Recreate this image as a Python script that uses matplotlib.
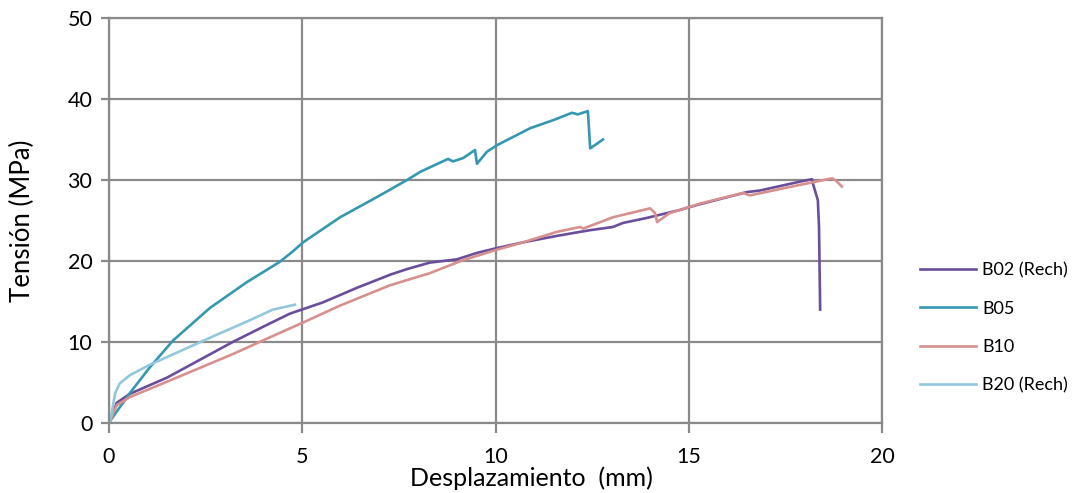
import matplotlib
matplotlib.use("Agg")
import matplotlib.pyplot as plt

plt.rcParams['font.family'] = ['Lato', 'DejaVu Sans']

# Data (desplazamiento mm, tensión MPa)
b02_x = [0.0, 0.05, 0.2, 0.54, 1.5, 2.35, 3.2, 4.08, 4.68, 5.54, 6.42, 7.27, 7.71, 8.3, 9.0, 9.52,
         10.04, 10.71, 11.59, 12.19, 12.44, 13.04, 13.3, 13.9, 14.77, 15.2, 16.5, 16.84, 17.88,
         18.19, 18.21, 18.34, 18.37, 18.4]
b02_y = [0.0, 0.6, 2.5, 3.6, 5.6, 7.8, 10.0, 12.1, 13.5, 14.9, 16.7, 18.3, 19.0, 19.8, 20.2, 21.0,
         21.6, 22.3, 23.1, 23.6, 23.8, 24.2, 24.7, 25.3, 26.3, 26.9, 28.5, 28.7, 29.8,
         30.1, 29.6, 27.5, 24.2, 14.0]

b05_x = [0.0, 0.05, 0.54, 1.06, 1.66, 2.61, 3.57, 4.42, 4.76, 5.02, 5.98, 7.01, 7.71, 8.05, 8.77,
         8.9, 9.16, 9.47, 9.52, 9.78, 10.04, 10.45, 10.9, 11.5, 11.98, 12.13, 12.39, 12.45, 12.78]
b05_y = [0.0, 0.4, 3.7, 6.9, 10.2, 14.2, 17.4, 19.9, 21.2, 22.3, 25.4, 28.1, 30.0, 31.0, 32.6,
         32.3, 32.7, 33.7, 32.0, 33.5, 34.3, 35.3, 36.4, 37.4, 38.3, 38.1, 38.5, 33.9, 35.0]

b10_x = [0.0, 0.05, 0.2, 0.54, 1.5, 2.35, 3.2, 4.08, 5.02, 5.98, 7.27, 8.3, 9.16, 10.04, 10.71,
         11.59, 12.19, 12.27, 13.04, 14.0, 14.13, 14.18, 14.5, 14.77, 15.3, 16.4, 16.58, 17.88,
         18.7, 18.79, 18.96]
b10_y = [0.0, 0.5, 2.2, 3.2, 5.1, 6.8, 8.5, 10.4, 12.4, 14.5, 17.0, 18.5, 20.1, 21.4, 22.3,
         23.6, 24.2, 24.0, 25.4, 26.5, 25.9, 24.8, 25.9, 26.3, 27.1, 28.4, 28.1, 29.4,
         30.2, 30.0, 29.2]

b20_x = [0.0, 0.05, 0.16, 0.28, 0.54, 1.06, 1.9, 2.79, 3.65, 4.24, 4.81]
b20_y = [0.0, 0.8, 3.7, 4.9, 5.9, 7.2, 9.0, 10.9, 12.7, 14.0, 14.6]

labels = ["B02 (Rech)", "B05", "B10", "B20 (Rech)"]
colors = ['#6B4E9B', '#3597B0', '#D6908E', '#93C8DA']

x_ticks = [0, 5, 10, 15, 20]
y_ticks = [0, 10, 20, 30, 40, 50]

fig = plt.figure(figsize=(10.73, 4.93), dpi=100)
ax = fig.add_axes([0.1016, 0.142, 0.7204, 0.8215])

series = [(b02_x, b02_y), (b05_x, b05_y), (b10_x, b10_y), (b20_x, b20_y)]
for (xs, ys), lab, c in zip(series, labels, colors):
    ax.plot(xs, ys, color=c, lw=1.9, label=lab, solid_joinstyle='round')

ax.set_xlim(0, 20)
ax.set_ylim(0, 50)
ax.set_xticks(x_ticks)
ax.set_yticks(y_ticks)
ax.grid(True, color='#8A8A8A', lw=1.6)
ax.set_axisbelow(True)
for s in ax.spines.values():
    s.set_color('#8A8A8A')
    s.set_linewidth(1.6)
ax.tick_params(axis='y', direction='out', length=6, width=1.6, color='#8A8A8A',
               labelsize=15.5, pad=6)
ax.tick_params(axis='x', direction='out', length=7, width=1.6, color='#8A8A8A',
               labelsize=15.5, pad=10)
ax.set_xlabel("Desplazamiento  (mm)", fontsize=18)
ax.xaxis.set_label_coords(0.546, -0.108)
ax.xaxis.label.set_va('top')
ax.set_ylabel("Tensión (MPa)", fontsize=18.5)
ax.yaxis.set_label_coords(-0.1125, 0.5)
ax.yaxis.label.set_va('center')

ax.legend(loc='center left', bbox_to_anchor=(1.028, 0.235), frameon=False, fontsize=13,
          handlelength=3.1, labelspacing=1.25, handletextpad=0.35)

fig.savefig("out.png", dpi=100)
